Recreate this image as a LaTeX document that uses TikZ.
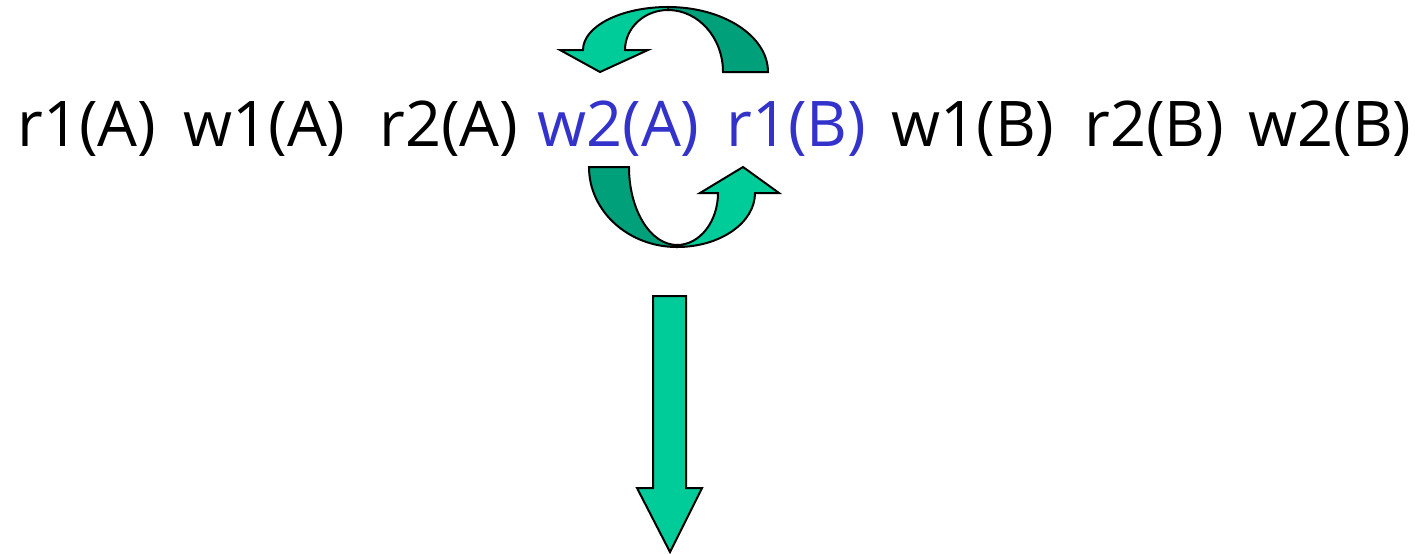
\documentclass[tikz,border=0pt]{standalone}
\usepackage{fontspec}
\setmainfont{Open Sans}
\definecolor{lightg}{HTML}{00CC99}
\definecolor{darkg}{HTML}{00A07A}
\definecolor{blu}{HTML}{3333CC}
\tikzset{
  lightarrow/.style={fill=lightg, draw=black, line width=1pt, line join=miter},
  darkarrow/.style={fill=darkg, draw=black, line width=1pt, line join=miter},
  seq/.style={anchor=base west, inner sep=0pt, font=\fontsize{31.5}{36}\selectfont},
  hl/.style={seq, text=blu}
}
\begin{document}
\begin{tikzpicture}[x=0.5pt,y=-0.5pt]
\useasboundingbox (0,0) rectangle (1420,553);
\node[seq] (o1) at (17,146) {r1(A)};
\node[seq] (o2) at (183,146) {w1(A)};
\node[seq] (o3) at (379,146) {r2(A)};
\node[hl]  (o4) at (537,146) {w2(A)};
\node[hl]  (o5) at (726,146) {r1(B)};
\node[seq] (o6) at (891,146) {w1(B)};
\node[seq] (o7) at (1084,146) {r2(B)};
\node[seq] (o8) at (1248,146) {w2(B)};
% top curved arrow
\draw[lightarrow] (668,7) arc[start angle=-90, end angle=-180, x radius=85, y radius=43]
  -- (560,50) -- (600,72) -- (648,50) -- (625,50)
  arc[start angle=180, end angle=270, x radius=43, y radius=40] -- cycle;
\draw[darkarrow] (768,72) arc[start angle=0, end angle=-90, x radius=100, y radius=65]
  -- (668,10) arc[start angle=-90, end angle=0, x radius=55, y radius=62] -- cycle;
% bottom curved arrow
\draw[lightarrow] (677,247) arc[start angle=90, end angle=0, x radius=78, y radius=54]
  -- (779,193) -- (743,167) -- (700,193) -- (718,193)
  arc[start angle=0, end angle=90, x radius=41, y radius=52] -- cycle;
\draw[darkarrow] (589,167) arc[start angle=180, end angle=90, x radius=88, y radius=80]
  -- (677,245) arc[start angle=90, end angle=180, x radius=48, y radius=78] -- cycle;
% main down arrow
\draw[lightarrow] (653,296) -- (686,296) -- (686,488) -- (702,488) -- (670,552) -- (637,488) -- (653,488) -- cycle;
\end{tikzpicture}
\end{document}
